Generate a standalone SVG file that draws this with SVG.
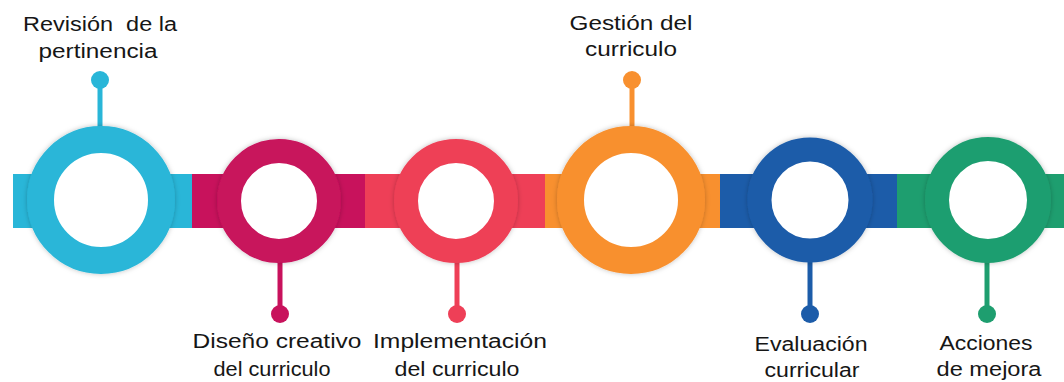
<svg xmlns="http://www.w3.org/2000/svg" width="1064" height="382" viewBox="0 0 1064 382">
  <style>
    .lbl { font-family: "Liberation Sans", Arial, sans-serif; font-size: 20px; fill: #161616; text-anchor: middle; white-space: pre; }
    .ring { fill: #ffffff; filter: url(#sh); }
    .stem { stroke-width: 5; }
  </style>
  <defs>
    <filter id="sh" x="-20%" y="-20%" width="140%" height="140%">
      <feDropShadow dx="0" dy="0" stdDeviation="2.5" flood-color="#000" flood-opacity="0.25"/>
    </filter>
  </defs>
  <rect width="1064" height="382" fill="#ffffff"/>
  <g id="connectors">
    <rect x="13" y="174" width="180" height="54" fill="#29b6d8"/>
    <rect x="192" y="174" width="174" height="54" fill="#c8125c"/>
    <rect x="365" y="174" width="181" height="54" fill="#ee3f57"/>
    <rect x="545" y="174" width="176" height="54" fill="#f8902f"/>
    <rect x="720" y="174" width="178" height="54" fill="#1c5ca9"/>
    <rect x="897" y="174" width="167" height="54" fill="#1e9e6f"/>
  </g>
  <g id="n1">
    <line class="stem" x1="100" y1="80" x2="100" y2="130" stroke="#29b6d8"/>
    <circle cx="100" cy="80" r="9" fill="#29b6d8"/>
    <circle class="ring" cx="101" cy="200" r="60.5" stroke="#29b6d8" stroke-width="27"/>
    <text class="lbl" x="100" y="31" xml:space="preserve" textLength="154" lengthAdjust="spacingAndGlyphs">Revisión  de la</text>
    <text class="lbl" x="98" y="58" textLength="119" lengthAdjust="spacingAndGlyphs">pertinencia</text>
  </g>
  <g id="n2">
    <line class="stem" x1="280" y1="255" x2="280" y2="314" stroke="#c8125c"/>
    <circle cx="280" cy="314" r="9" fill="#c8125c"/>
    <circle class="ring" cx="279" cy="201" r="50" stroke="#c8125c" stroke-width="24"/>
    <text class="lbl" x="277" y="348" textLength="169" lengthAdjust="spacingAndGlyphs">Diseño creativo</text>
    <text class="lbl" x="272" y="376" textLength="117" lengthAdjust="spacingAndGlyphs">del curriculo</text>
  </g>
  <g id="n3">
    <line class="stem" x1="457" y1="255" x2="457" y2="314" stroke="#ee3f57"/>
    <circle cx="457" cy="314" r="9" fill="#ee3f57"/>
    <circle class="ring" cx="456" cy="201" r="50" stroke="#ee3f57" stroke-width="24"/>
    <text class="lbl" x="460" y="348" textLength="174" lengthAdjust="spacingAndGlyphs">Implementación</text>
    <text class="lbl" x="457" y="376" textLength="125" lengthAdjust="spacingAndGlyphs">del curriculo</text>
  </g>
  <g id="n4">
    <line class="stem" x1="632" y1="80" x2="632" y2="130" stroke="#f8902f"/>
    <circle cx="632" cy="80" r="9" fill="#f8902f"/>
    <circle class="ring" cx="631" cy="200" r="60.5" stroke="#f8902f" stroke-width="27"/>
    <text class="lbl" x="631" y="30" textLength="123" lengthAdjust="spacingAndGlyphs">Gestión del</text>
    <text class="lbl" x="631" y="56" textLength="92" lengthAdjust="spacingAndGlyphs">curriculo</text>
  </g>
  <g id="n5">
    <line class="stem" x1="810" y1="255" x2="810" y2="314" stroke="#1c5ca9"/>
    <circle cx="810" cy="314" r="9" fill="#1c5ca9"/>
    <circle class="ring" cx="810" cy="200" r="50.5" stroke="#1c5ca9" stroke-width="24"/>
    <text class="lbl" x="811" y="351" textLength="113" lengthAdjust="spacingAndGlyphs">Evaluación</text>
    <text class="lbl" x="812" y="377" textLength="95" lengthAdjust="spacingAndGlyphs">curricular</text>
  </g>
  <g id="n6">
    <line class="stem" x1="987" y1="255" x2="987" y2="314" stroke="#1e9e6f"/>
    <circle cx="987" cy="314" r="9" fill="#1e9e6f"/>
    <circle class="ring" cx="988" cy="200" r="51" stroke="#1e9e6f" stroke-width="24"/>
    <text class="lbl" x="986" y="350" textLength="93" lengthAdjust="spacingAndGlyphs">Acciones</text>
    <text class="lbl" x="989" y="376" textLength="105" lengthAdjust="spacingAndGlyphs">de mejora</text>
  </g>
</svg>
